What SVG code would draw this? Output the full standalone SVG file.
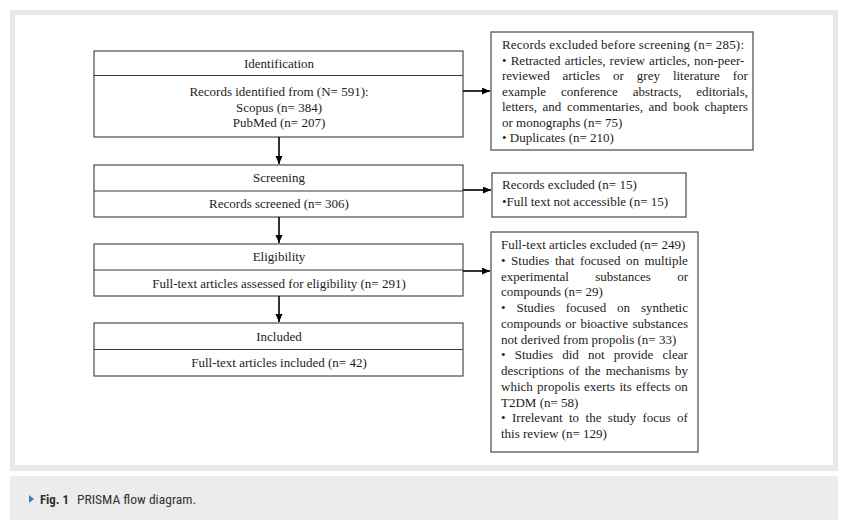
<svg xmlns="http://www.w3.org/2000/svg" width="848" height="532" viewBox="0 0 848 532">
<style>
.box{fill:#fff;stroke:#3a3a3a;stroke-width:1.1}
.rbox{fill:#fff;stroke:#555;stroke-width:1.3}
.div{stroke:#3a3a3a;stroke-width:1.1}
.t{font-family:"Liberation Serif","Times New Roman",serif;font-size:13px;fill:#1c1c1c}
.c{text-anchor:middle}
.arr{stroke:#000;stroke-width:1.6;fill:none}
.cap{font-family:"Liberation Sans Narrow","Roboto Condensed","Open Sans",sans-serif;font-size:13px;fill:#333}
</style>
<defs>
<marker id="ah" markerUnits="userSpaceOnUse" markerWidth="9" markerHeight="8" refX="8" refY="3.5" orient="auto">
<path d="M0,0 L8,3.5 L0,7 z" fill="#000"/>
</marker>
</defs>
<rect x="0" y="0" width="848" height="532" fill="#fff"/>
<rect x="10" y="10" width="828" height="461" fill="#e9e9e9"/>
<rect x="15" y="15" width="818" height="450" fill="#fff"/>
<rect x="10" y="476" width="828" height="44" fill="#ebecec"/>

<g id="identification">
<rect class="box" x="94" y="51" width="369" height="86"/>
<line class="div" x1="94" y1="75.5" x2="463" y2="75.5"/>
<text class="t c" x="279" y="68">Identification</text>
<text class="t c" x="279" y="96">Records identified from (N= 591):</text>
<text class="t c" x="279" y="111.5">Scopus (n= 384)</text>
<text class="t c" x="279" y="127">PubMed (n= 207)</text>
</g>
<g id="screening">
<rect class="box" x="94" y="165" width="369" height="52"/>
<line class="div" x1="94" y1="191" x2="463" y2="191"/>
<text class="t c" x="279" y="182">Screening</text>
<text class="t c" x="279" y="208">Records screened (n= 306)</text>
</g>
<g id="eligibility">
<rect class="box" x="94" y="244" width="369" height="52"/>
<line class="div" x1="94" y1="270" x2="463" y2="270"/>
<text class="t c" x="279" y="261">Eligibility</text>
<text class="t c" x="279" y="288">Full-text articles assessed for eligibility (n= 291)</text>
</g>
<g id="included">
<rect class="box" x="94" y="323" width="369" height="53"/>
<line class="div" x1="94" y1="349.5" x2="463" y2="349.5"/>
<text class="t c" x="279" y="341">Included</text>
<text class="t c" x="279" y="367">Full-text articles included (n= 42)</text>
</g>

<g id="excluded-before-screening">
<rect class="rbox" x="491" y="32" width="262" height="118"/>
<text class="t" x="502" y="49" textLength="242" lengthAdjust="spacing">Records excluded before screening (n= 285):</text>
<text class="t" x="502" y="64.5" style="word-spacing:0.9px">• Retracted articles, review articles, non-peer-</text>
<text class="t" x="502" y="80" style="word-spacing:9.7px">reviewed articles or grey literature for</text>
<text class="t" x="502" y="95.5" style="word-spacing:11.6px">example conference abstracts, editorials,</text>
<text class="t" x="502" y="111" style="word-spacing:2.3px">letters, and commentaries, and book chapters</text>
<text class="t" x="502" y="126.5">or monographs (n= 75)</text>
<text class="t" x="502" y="142">• Duplicates (n= 210)</text>
</g>
<g id="records-excluded">
<rect class="rbox" x="492" y="173" width="194" height="44"/>
<text class="t" x="502" y="189">Records excluded (n= 15)</text>
<text class="t" x="502" y="206">•Full text not accessible (n= 15)</text>
</g>
<g id="fulltext-excluded">
<rect class="rbox" x="491" y="232" width="207" height="220"/>
<text class="t" x="501" y="249">Full-text articles excluded (n= 249)</text>
<text class="t" x="501" y="264.75" style="word-spacing:2.3px">• Studies that focused on multiple</text>
<text class="t" x="501" y="280.5" style="word-spacing:23.1px">experimental substances or</text>
<text class="t" x="501" y="296.25">compounds (n= 29)</text>
<text class="t" x="501" y="312" style="word-spacing:7.7px">• Studies focused on synthetic</text>
<text class="t" x="501" y="327.75" style="word-spacing:1.07px">compounds or bioactive substances</text>
<text class="t" x="501" y="343.5">not derived from propolis (n= 33)</text>
<text class="t" x="501" y="359.25" style="word-spacing:5.9px">• Studies did not provide clear</text>
<text class="t" x="501" y="375" style="word-spacing:1.8px">descriptions of the mechanisms by</text>
<text class="t" x="501" y="390.75" style="word-spacing:1.08px">which propolis exerts its effects on</text>
<text class="t" x="501" y="406.5">T2DM (n= 58)</text>
<text class="t" x="501" y="422.25" style="word-spacing:3.2px">• Irrelevant to the study focus of</text>
<text class="t" x="501" y="438">this review (n= 129)</text>
</g>

<g id="connectors">
<path class="arr" d="M279,137 V164" marker-end="url(#ah)"/>
<path class="arr" d="M279,217 V243" marker-end="url(#ah)"/>
<path class="arr" d="M279,296 V322" marker-end="url(#ah)"/>
<path class="arr" d="M463,91 H490" marker-end="url(#ah)"/>
<path class="arr" d="M463,190 H491" marker-end="url(#ah)"/>
<path class="arr" d="M463,271 H490" marker-end="url(#ah)"/>
</g>

<g id="caption">
<path d="M29,495 L34,499 L29,503 z" fill="#2f7fc2"/>
<text class="cap" x="40" y="504" font-weight="bold" textLength="29" lengthAdjust="spacingAndGlyphs">Fig. 1</text>
<text class="cap" x="77" y="504" textLength="119" lengthAdjust="spacingAndGlyphs">PRISMA flow diagram.</text>
</g>
</svg>
